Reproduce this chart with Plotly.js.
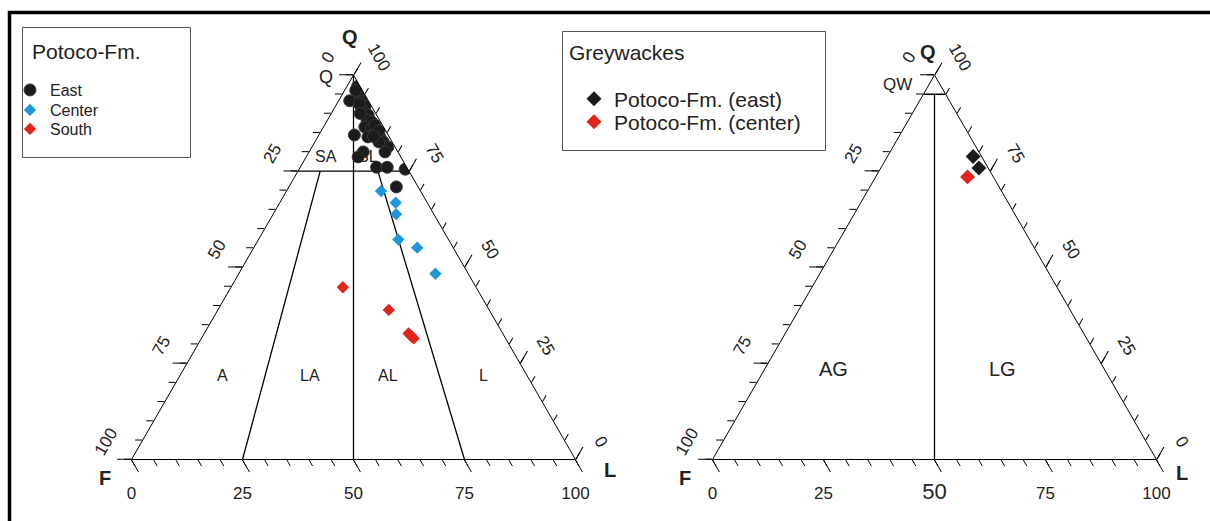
<!DOCTYPE html>
<html><head><meta charset="utf-8">
<script src="https://cdn.plot.ly/plotly-3.0.1.min.js"></script>
<style>html,body{margin:0;padding:0;background:#fff}#chart{width:1210px;height:521px}</style>
</head><body><div id="chart"></div>
<script>
// ---------- DATA (percent of Q, F, L) ----------
// Potoco-Fm. East (black circles)
const eastQ = [97.0, 95.7, 94.4, 93.3, 93.1, 91.8, 90.5, 89.6, 88.3, 87.8, 86.5, 86.1, 84.8, 84.4, 83.9, 83.9, 82.6, 81.3, 80.0, 80.0, 78.7, 76.0, 76.0, 75.5, 70.9, 87.0, 82.6, 96.0, 92.5, 90.0, 85.5, 84.0];
const eastF = [0.6, 1.1, 1.3, 4.2, 1.6, 1.5, 2.5, 1.9, 2.8, 2.0, 4.2, 2.9, 2.8, 7.6, 2.1, 4.8, 2.0, 1.6, 2.9, 7.8, 9.6, 6.8, 4.4, 0.6, 4.9, 1.7, 3.0, 1.5, 2.5, 3.5, 1.5, 3.5];
const eastL = [2.4, 3.2, 4.3, 2.5, 5.3, 6.7, 7.0, 8.5, 8.9, 10.2, 9.3, 11.0, 12.4, 8.0, 14.0, 11.3, 15.4, 17.1, 17.1, 12.2, 11.7, 17.2, 19.6, 23.9, 24.2, 11.3, 14.4, 2.5, 5.0, 6.5, 13.0, 12.5];
// Potoco-Fm. Center (blue diamonds)
const centerQ = [69.8, 66.8, 63.8, 57.2, 55.1, 48.3];
const centerF = [8.9, 7.1, 8.5, 11.3, 8.1, 7.4];
const centerL = [21.3, 26.1, 27.7, 31.5, 36.8, 44.3];
// Potoco-Fm. South (red diamonds)
const southQ = [44.8, 38.9, 32.8, 32.0, 31.5];
const southF = [30.0, 22.6, 21.2, 20.9, 20.7];
const southL = [25.2, 38.5, 46.0, 47.1, 47.8];
// Greywackes
const gwEastQ = [78.8, 75.8];
const gwEastF = [1.9, 2.1];
const gwEastL = [19.3, 22.1];
const gwCenterQ = [73.5];
const gwCenterF = [5.8];
const gwCenterL = [20.7];

// Classification field boundaries (Q, F, L endpoints)
const sandQ75Q = [75, 75], sandQ75F = [25, 0], sandQ75L = [0, 25];
const sandMidQ = [100, 0], sandMidF = [0, 50], sandMidL = [0, 50];
const sandLeftQ = [75, 0], sandLeftF = [20, 75], sandLeftL = [5, 25];
const sandRightQ = [75, 0], sandRightF = [7, 25], sandRightL = [18, 75];
const gwTopQ = [95, 95], gwTopF = [5, 0], gwTopL = [0, 5];
const gwMidQ = [95, 0], gwMidF = [2.5, 50], gwMidL = [2.5, 50];

// Tick values / labels
const majorTicks = [0, 25, 50, 75, 100];
const majorLabels = ['100', '75', '50', '25', '0'];
const gwBottomLabels = ['100', '75', '50', '25', '0'];
const gwBottomSizes = [17, 17, 22, 17, 17];
const minorTicks = [0, 5, 10, 15, 20, 25, 30, 35, 40, 45, 50, 55, 60, 65, 70, 75, 80, 85, 90, 95, 100];

// ---------- helpers ----------
const W = 1210, H = 521;
const FONT = 'Liberation Sans, Arial, sans-serif';
const px = x => x / W;
const py = y => 1 - y / H;
const LABEL_GAP = 21.5;   // px distance of tick-label ternaries from the edges
const sized = (labels, sizes) => labels.map((t, i) => '<span style="font-size:' + sizes[i] + 'px">' + t + '</span>');
const uniform = labels => sized(labels, labels.map(() => 17));

function edgeAxis(len, vals) {
  return {min: 0, showline: true, linecolor: '#000', linewidth: 1, showgrid: false,
    ticks: 'outside', ticklen: len, tickwidth: 1, tickcolor: '#000',
    tickmode: 'array', tickvals: vals, showticklabels: false, title: {text: ''}};
}
function tickOnlyAxis(len, vals) {
  return {min: 0, showline: false, showgrid: false,
    ticks: 'outside', ticklen: len, tickwidth: 1, tickcolor: '#000',
    tickmode: 'array', tickvals: vals, showticklabels: false, title: {text: ''}};
}
function labelAxis(labels, angle) {
  return {min: 0, showline: false, showgrid: false, ticks: '',
    tickmode: 'array', tickvals: majorTicks, ticktext: labels, tickangle: angle,
    tickfont: {family: FONT, size: 17, color: '#222'}, title: {text: ''}};
}
function hiddenAxis() {
  return {min: 0, showline: false, showgrid: false, ticks: '', showticklabels: false, title: {text: ''}};
}
function shiftDom(dom, nx, ny) {
  const dx = nx * LABEL_GAP / W, dy = ny * LABEL_GAP / H;
  return {x: [dom.x[0] + dx, dom.x[1] + dx], y: [dom.y[0] - dy, dom.y[1] - dy]};
}
const domL = {x: [px(131.5), px(575.5)], y: [py(459.5), py(75)]};
const domR = {x: [px(712.5), px(1156.5)], y: [py(459.5), py(75)]};
const N_A = [-0.866, -0.5], N_B = [0, 1], N_C = [0.866, -0.5];   // outward normals (screen)

function lineTrace(a, b, c, sub) {
  return {type: 'scatterternary', mode: 'lines', a: a, b: b, c: c, subplot: sub,
    line: {color: '#000', width: 1.3}, showlegend: false, hoverinfo: 'skip'};
}
function emptyTrace(sub) {
  return {type: 'scatterternary', mode: 'markers', a: [], b: [], c: [], subplot: sub, showlegend: false, hoverinfo: 'skip'};
}

const data = [
  lineTrace(sandQ75Q, sandQ75F, sandQ75L, 'ternary'),
  lineTrace(sandMidQ, sandMidF, sandMidL, 'ternary'),
  lineTrace(sandLeftQ, sandLeftF, sandLeftL, 'ternary'),
  lineTrace(sandRightQ, sandRightF, sandRightL, 'ternary'),
  lineTrace(gwTopQ, gwTopF, gwTopL, 'ternary6'),
  lineTrace(gwMidQ, gwMidF, gwMidL, 'ternary6'),
  {type: 'scatterternary', mode: 'markers', name: 'East', subplot: 'ternary', legend: 'legend',
   a: eastQ, b: eastF, c: eastL,
   marker: {symbol: 'circle', size: 12, color: '#1c1a1a', line: {color: '#3a3a3a', width: 1}}},
  {type: 'scatterternary', mode: 'markers', name: 'Center', subplot: 'ternary', legend: 'legend2',
   a: centerQ, b: centerF, c: centerL,
   marker: {symbol: 'diamond', size: 9.5, color: '#1e96dc'}},
  {type: 'scatterternary', mode: 'markers', name: 'South', subplot: 'ternary', legend: 'legend3',
   a: southQ, b: southF, c: southL,
   marker: {symbol: 'diamond', size: 9.5, color: '#e2231a'}},
  {type: 'scatterternary', mode: 'markers', name: 'Potoco-Fm. (east)', subplot: 'ternary6', legend: 'legend4',
   a: gwEastQ, b: gwEastF, c: gwEastL,
   marker: {symbol: 'diamond', size: 11.5, color: '#1c1a1a'}},
  {type: 'scatterternary', mode: 'markers', name: 'Potoco-Fm. (center)', subplot: 'ternary6', legend: 'legend5',
   a: gwCenterQ, b: gwCenterF, c: gwCenterL,
   marker: {symbol: 'diamond', size: 11.5, color: '#e2231a'}}
];
['ternary2', 'ternary3', 'ternary4', 'ternary5', 'ternary7', 'ternary8', 'ternary9', 'ternary10']
  .forEach(s => data.push(emptyTrace(s)));

function legendAt(xLeft, yMid, size) {
  return {x: px(xLeft), y: py(yMid), xanchor: 'left', yanchor: 'middle',
    bgcolor: 'rgba(0,0,0,0)', borderwidth: 0, font: {family: FONT, size: size, color: '#222'}};
}
const ann = (text, x, y, size, bold) => ({
  text: bold ? '<b>' + text + '</b>' : text, x: px(x), y: py(y), xref: 'paper', yref: 'paper',
  showarrow: false, xanchor: 'center', yanchor: 'middle',
  font: {family: FONT, size: size, color: '#222'}
});
const CLEAR = 'rgba(0,0,0,0)';

function triangleSet(dom, bottomLabels) {
  return [
    {sum: 100, domain: dom, bgcolor: '#fff',
     aaxis: edgeAxis(14, majorTicks), baxis: edgeAxis(14, majorTicks), caxis: edgeAxis(14, majorTicks)},
    {sum: 100, domain: dom, bgcolor: CLEAR,
     aaxis: tickOnlyAxis(7, minorTicks), baxis: tickOnlyAxis(7, minorTicks), caxis: tickOnlyAxis(7, minorTicks)},
    {sum: 100, domain: shiftDom(dom, N_A[0], N_A[1]), bgcolor: CLEAR,
     aaxis: labelAxis(uniform(majorLabels), -60), baxis: hiddenAxis(), caxis: hiddenAxis()},
    {sum: 100, domain: shiftDom(dom, N_B[0], N_B[1]), bgcolor: CLEAR,
     aaxis: hiddenAxis(), baxis: labelAxis(bottomLabels, 0), caxis: hiddenAxis()},
    {sum: 100, domain: shiftDom(dom, N_C[0], N_C[1]), bgcolor: CLEAR,
     aaxis: hiddenAxis(), baxis: hiddenAxis(), caxis: labelAxis(uniform(majorLabels), 60)}
  ];
}
const leftSet = triangleSet(domL, uniform(majorLabels));
const rightSet = triangleSet(domR, sized(gwBottomLabels, gwBottomSizes));

const layout = {
  width: W, height: H, margin: {l: 0, r: 0, t: 0, b: 0},
  paper_bgcolor: '#fff', showlegend: true,
  ternary: leftSet[0], ternary2: leftSet[1], ternary3: leftSet[2], ternary4: leftSet[3], ternary5: leftSet[4],
  ternary6: rightSet[0], ternary7: rightSet[1], ternary8: rightSet[2], ternary9: rightSet[3], ternary10: rightSet[4],
  legend: legendAt(10, 90, 16),
  legend2: legendAt(10, 110, 16),
  legend3: legendAt(10, 129, 16),
  legend4: legendAt(574, 99, 21),
  legend5: legendAt(574, 122, 21),
  shapes: [
    {type: 'line', xref: 'paper', yref: 'paper', x0: px(8), x1: 1, y0: py(12.5), y1: py(12.5), line: {color: '#000', width: 3.5}},
    {type: 'line', xref: 'paper', yref: 'paper', x0: px(9.5), x1: px(9.5), y0: py(11), y1: 0, line: {color: '#000', width: 3.5}},
    {type: 'rect', xref: 'paper', yref: 'paper', x0: px(22.5), x1: px(190.5), y0: py(27.5), y1: py(157.5), line: {color: '#555', width: 1}},
    {type: 'rect', xref: 'paper', yref: 'paper', x0: px(562.5), x1: px(825.5), y0: py(31.5), y1: py(150.5), line: {color: '#555', width: 1}}
  ],
  annotations: [
    ann('Potoco-Fm.', 87, 51, 21, false),
    ann('Greywackes', 627, 52, 21, false),
    ann('Q', 350, 37, 20, true), ann('F', 105, 478, 20, true), ann('L', 610, 470, 20, true),
    ann('Q', 928, 52, 20, true), ann('F', 685, 478, 20, true), ann('L', 1182, 473, 20, true),
    ann('Q', 326, 77, 18, false),
    ann('SA', 326, 157, 16, false), ann('SL', 368, 157, 16, false),
    ann('A', 222, 375, 16, false), ann('LA', 310, 375, 16, false),
    ann('AL', 388, 375, 16, false), ann('L', 483, 375, 16, false),
    ann('QW', 897, 85, 17, false),
    ann('AG', 834, 369, 20, false), ann('LG', 1003, 369, 20, false)
  ]
};

Plotly.newPlot('chart', data, layout, {staticPlot: true, displayModeBar: false});
</script>
</body></html>
